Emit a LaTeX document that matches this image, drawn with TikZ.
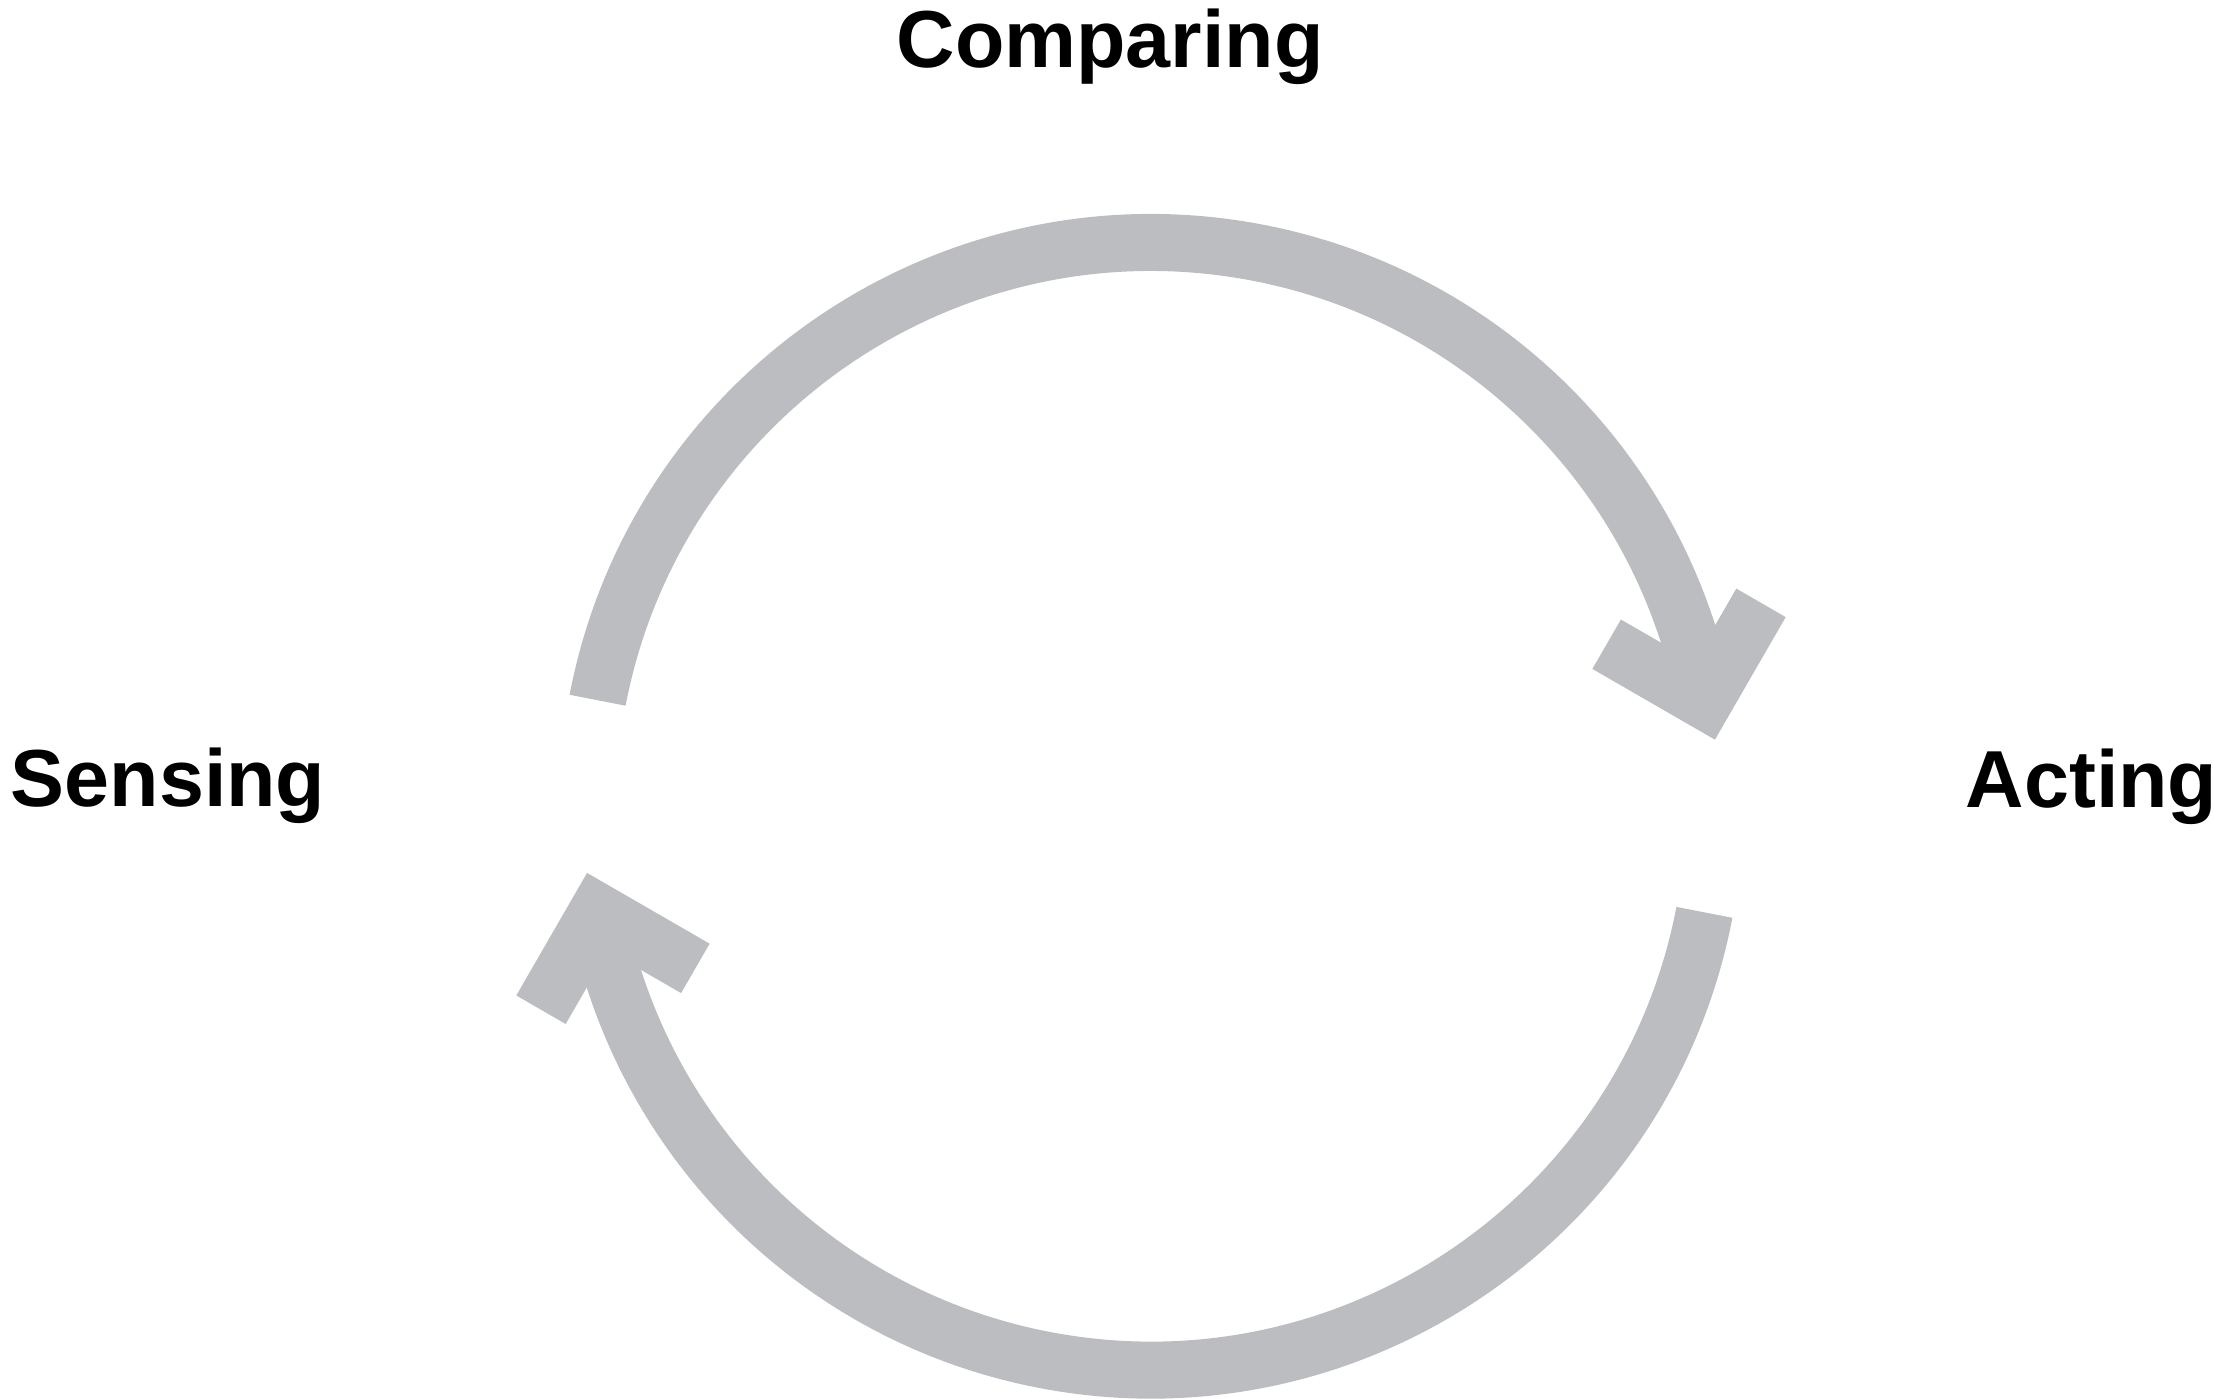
\documentclass[tikz,border=0pt]{standalone}
\usepackage{fontspec}
\setmainfont{Liberation Sans}
\usepackage{xcolor}
\usepackage{tikz}
\usetikzlibrary{calc}

\definecolor{cyclegray}{RGB}{188,189,192}

\begin{document}
\begin{tikzpicture}[x=0.01cm, y=0.01cm,
    cyclearc/.style={draw=cyclegray, line width=0.57cm},
    cyclehead/.style={draw=cyclegray, line width=0.57cm, line join=miter},
    stagelabel/.style={font=\fontsize{23}{28}\selectfont\bfseries, inner sep=0pt, anchor=base west}]
\useasboundingbox (0,0) rectangle (2214,1399);

% The three stages
\node[stagelabel] (sensing) at (10,592) {Sensing};
\node[stagelabel] (comparing) at (896,1331) {Comparing};
\node[stagelabel] (acting) at (1965,591.3) {Acting};

% Centre of the loop and the arc ends
\coordinate (hub) at (1151,592.7);
\coordinate (senseout) at ($(hub)+(169.15:563.5)$);
\coordinate (acttip) at ($(hub)+(10.8:563.5)$);
\coordinate (actout) at ($(hub)+(-10.85:563.5)$);
\coordinate (sensetip) at ($(hub)+(190.8:563.5)$);

% Upper arc, Sensing to Acting
\draw[cyclearc] (senseout) arc[start angle=169.15, end angle=10.8, radius=5.635cm];
\draw[cyclehead] ($(acttip)+(150:113)$) -- (acttip) -- ($(acttip)+(60:113)$);

% Lower arc, Acting back to Sensing
\draw[cyclearc] (actout) arc[start angle=-10.85, end angle=-169.2, radius=5.635cm];
\draw[cyclehead] ($(sensetip)+(330:113)$) -- (sensetip) -- ($(sensetip)+(240:113)$);

\end{tikzpicture}
\end{document}
